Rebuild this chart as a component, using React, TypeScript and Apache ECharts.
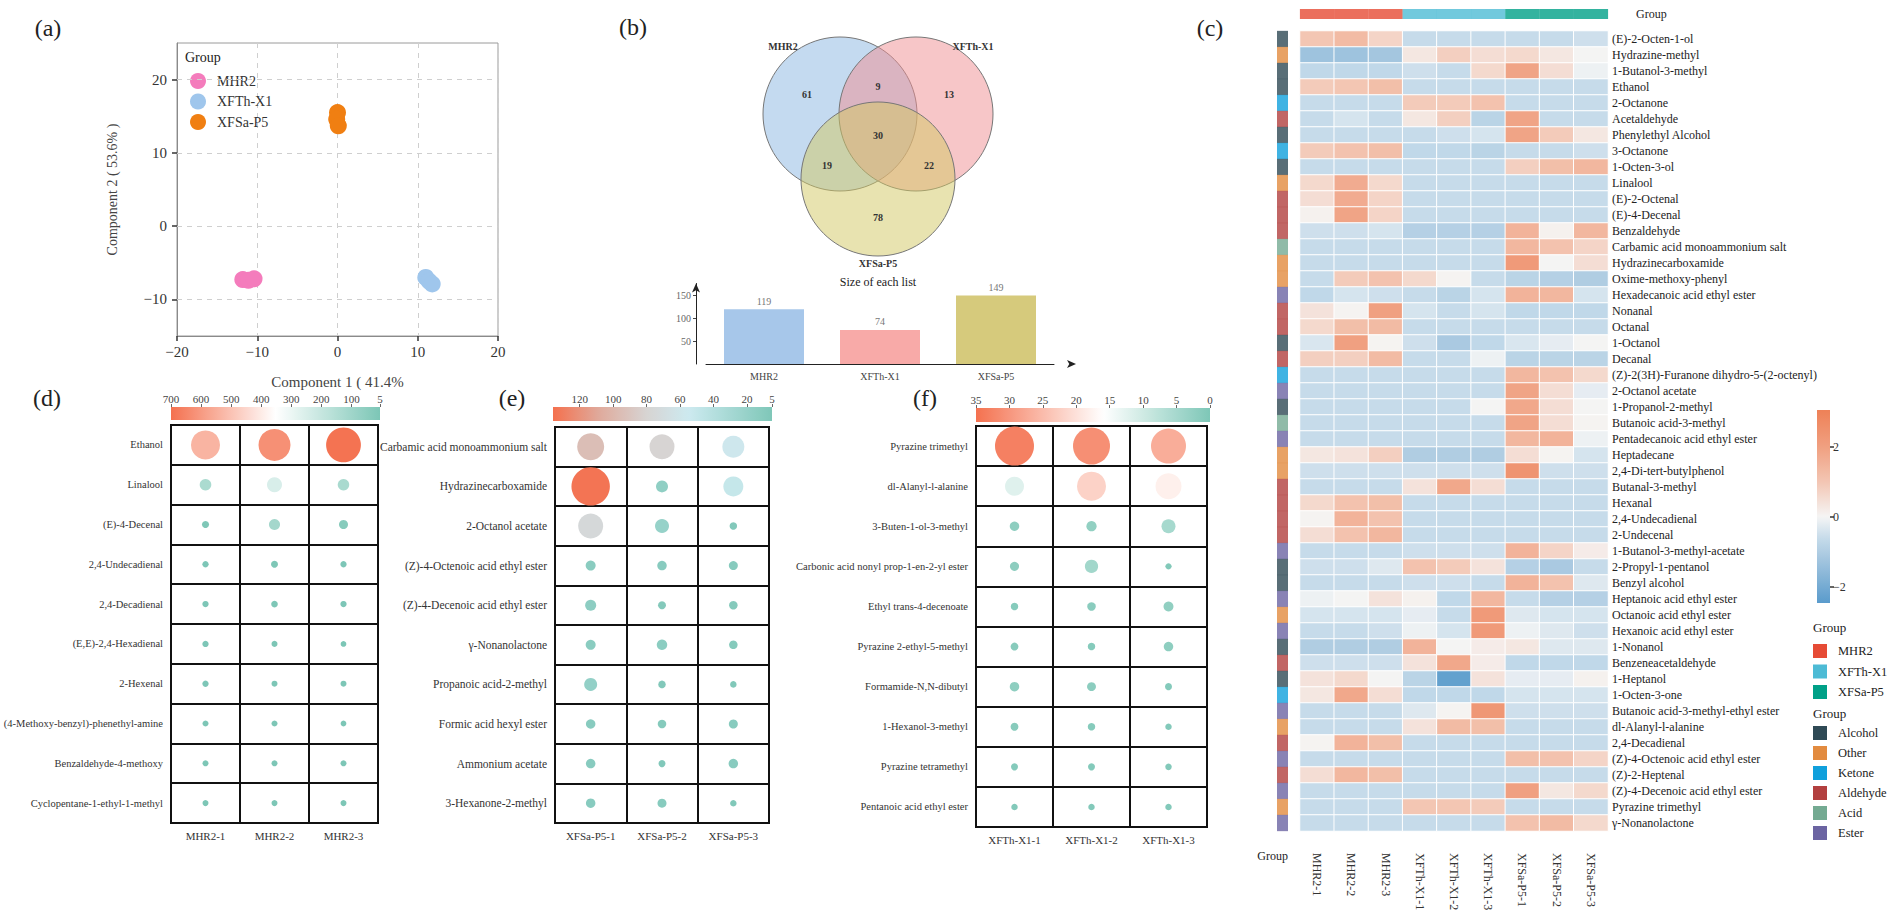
import React, { useEffect, useRef } from "react";
import * as echarts from "echarts";

const FONT = '"Liberation Serif", "Times New Roman", Times, serif';

// ---------------- (a) PCA ----------------
const pcaGroups = ["MHR2", "XFTh-X1", "XFSa-P5"];
const pcaMHR2 = [[-11.8, -7.3], [-11.1, -7.4], [-10.4, -7.2]];
const pcaXFTh = [[11.0, -7.0], [11.4, -7.5], [11.8, -7.9]];
const pcaXFSa = [[0.0, 15.5], [-0.1, 14.6], [0.1, 13.7]];
const pcaYTicks = [-10, 0, 10, 20];
const pcaXName = "Component 1 ( 41.4%";
const pcaYName = "Component 2 ( 53.6% )";

// ---------------- (b) Venn + sizes ----------------
const vennSets = ["MHR2", "XFTh-X1", "XFSa-P5"];
// regions: MHR2 only, XFTh-X1 only, XFSa-P5 only, M&T, M&S, T&S, all
const vennCounts = [61, 13, 78, 9, 19, 22, 30];
const listSizes = [119, 74, 149];
const listTicks = [50, 100, 150];

// ---------------- (c) heatmap ----------------
const heatSamples = ["MHR2-1", "MHR2-2", "MHR2-3", "XFTh-X1-1", "XFTh-X1-2", "XFTh-X1-3", "XFSa-P5-1", "XFSa-P5-2", "XFSa-P5-3"];
const heatSampleGroup = [0, 0, 0, 1, 1, 1, 2, 2, 2];
const heatCompounds = [
  "(E)-2-Octen-1-ol", "Hydrazine-methyl", "1-Butanol-3-methyl", "Ethanol", "2-Octanone", "Acetaldehyde",
  "Phenylethyl Alcohol", "3-Octanone", "1-Octen-3-ol", "Linalool", "(E)-2-Octenal", "(E)-4-Decenal",
  "Benzaldehyde", "Carbamic acid monoammonium salt", "Hydrazinecarboxamide", "Oxime-methoxy-phenyl",
  "Hexadecanoic acid ethyl ester", "Nonanal", "Octanal", "1-Octanol", "Decanal",
  "(Z)-2(3H)-Furanone dihydro-5-(2-octenyl)", "2-Octanol acetate", "1-Propanol-2-methyl",
  "Butanoic acid-3-methyl", "Pentadecanoic acid ethyl ester", "Heptadecane", "2,4-Di-tert-butylphenol",
  "Butanal-3-methyl", "Hexanal", "2,4-Undecadienal", "2-Undecenal", "1-Butanol-3-methyl-acetate",
  "2-Propyl-1-pentanol", "Benzyl alcohol", "Heptanoic acid ethyl ester", "Octanoic acid ethyl ester",
  "Hexanoic acid ethyl ester", "1-Nonanol", "Benzeneacetaldehyde", "1-Heptanol", "1-Octen-3-one",
  "Butanoic acid-3-methyl-ethyl ester", "dl-Alanyl-l-alanine", "2,4-Decadienal",
  "(Z)-4-Octenoic acid ethyl ester", "(Z)-2-Heptenal", "(Z)-4-Decenoic acid ethyl ester",
  "Pyrazine trimethyl", "\u03b3-Nonanolactone",
];
const compoundClassNames = ["Alcohol", "Other", "Ketone", "Aldehyde", "Acid", "Ester"];
const compoundClass = [
  "Alcohol", "Other", "Alcohol", "Alcohol", "Ketone", "Aldehyde", "Alcohol", "Ketone", "Alcohol", "Other",
  "Aldehyde", "Aldehyde", "Aldehyde", "Acid", "Other", "Other", "Ester", "Aldehyde", "Aldehyde", "Alcohol",
  "Aldehyde", "Ketone", "Ester", "Alcohol", "Acid", "Ester", "Other", "Other", "Aldehyde", "Aldehyde",
  "Aldehyde", "Aldehyde", "Ester", "Alcohol", "Alcohol", "Ester", "Other", "Ester", "Alcohol", "Aldehyde",
  "Alcohol", "Ketone", "Ester", "Other", "Aldehyde", "Ester", "Aldehyde", "Ester", "Other", "Ester",
];
const heatZ = [
  [1.0, 1.3, 0.7, -0.6, -0.6, -0.6, -0.6, -0.6, -0.5],
  [-1.3, -1.3, -1.2, 0.3, 0.8, 0.5, 0.6, 0.3, 0.0],
  [-0.7, -0.7, -0.7, -0.5, -0.6, 0.6, 1.9, 0.5, -0.1],
  [0.9, 1.0, 1.2, -0.6, -0.6, -0.6, -0.6, -0.6, -0.6],
  [-0.6, -0.6, -0.6, 0.9, 0.9, 1.1, -0.6, -0.6, -0.6],
  [-0.6, -0.4, -0.6, 0.3, 0.8, -0.8, 1.9, -0.6, -0.6],
  [-0.6, -0.6, -0.6, -0.6, -0.5, -0.4, 1.9, 0.9, 0.3],
  [0.9, 1.1, 1.2, -0.7, -0.7, -0.8, -0.6, -0.6, -0.5],
  [-0.6, -0.6, -0.6, -0.6, -0.6, -0.6, 0.8, 1.2, 1.4],
  [0.6, 1.7, 0.6, -0.6, -0.6, -0.6, -0.6, -0.6, -0.6],
  [0.5, 1.7, 0.7, -0.6, -0.6, -0.6, -0.6, -0.6, -0.6],
  [0.1, 1.9, 0.7, -0.6, -0.6, -0.6, -0.6, -0.6, -0.6],
  [-0.5, -0.5, -0.4, -0.9, -0.9, -0.9, 1.5, 0.1, 1.4],
  [-0.6, -0.6, -0.6, -0.6, -0.6, -0.6, 1.4, 1.1, 0.7],
  [-0.6, -0.6, -0.6, -0.6, -0.6, -0.6, 2.2, 0.0, 0.5],
  [-0.6, 0.9, 1.1, 0.6, 0.05, -0.6, -0.8, -0.9, -1.0],
  [-0.7, -0.4, -0.5, -0.6, -0.8, -0.4, 1.5, 1.4, -0.4],
  [0.4, 0.05, 2.0, -0.4, -0.6, -0.4, -0.7, -0.7, -0.7],
  [0.6, 1.2, 1.3, -0.6, -0.6, -0.6, -0.6, -0.6, -0.6],
  [-0.35, 2.0, 0.05, -0.5, -1.1, -0.7, -0.35, -0.2, 0.0],
  [0.8, 0.8, 1.3, -0.6, -0.6, -0.1, -0.8, -0.8, -0.8],
  [-0.6, -0.6, -0.6, -0.6, -0.6, -0.6, 1.4, 1.1, 0.6],
  [-0.6, -0.6, -0.6, -0.6, -0.6, -0.6, 1.9, 0.5, -0.2],
  [-0.6, -0.6, -0.6, -0.6, -0.6, 0.0, 1.8, 0.5, 0.0],
  [-0.6, -0.6, -0.6, -0.6, -0.6, -0.6, 1.9, 0.5, 0.05],
  [-0.6, -0.6, -0.6, -0.6, -0.6, -0.6, 1.4, 1.5, -0.1],
  [0.3, 0.4, 0.8, -1.0, -1.0, -1.0, 0.5, 0.05, -0.4],
  [-0.5, -0.5, -0.5, -0.5, -0.5, -0.5, 2.4, -0.5, -0.5],
  [-0.6, -0.6, -0.6, 0.4, 1.8, 0.5, -0.6, -0.6, -0.6],
  [0.6, 1.1, 1.2, -0.6, -0.6, -0.6, -0.6, -0.6, -0.6],
  [0.05, 1.5, 1.1, -0.6, -0.6, -0.6, -0.6, -0.6, -0.6],
  [0.5, 1.1, 1.4, -0.6, -0.6, -0.6, -0.6, -0.6, -0.6],
  [-0.6, -0.6, -0.6, -0.5, -0.5, -0.5, 1.5, 0.7, 0.2],
  [-0.5, -0.5, -0.3, 1.1, 0.9, 0.4, -0.9, -1.1, -0.6],
  [-0.6, -0.6, -0.6, -0.5, -0.5, -0.6, 1.5, 1.1, -0.3],
  [-0.1, 0.0, 0.4, 0.1, -0.7, 1.4, -0.6, -0.9, -0.9],
  [-0.4, -0.4, -0.4, -0.2, -0.6, 2.2, -0.3, -0.4, -0.4],
  [-0.6, -0.6, -0.5, -0.1, -0.4, 2.2, -0.1, -0.3, -0.5],
  [-1.0, -1.0, -1.0, 1.5, 0.0, 0.2, 0.3, -0.3, -0.3],
  [-0.5, -0.5, -0.5, 0.4, 1.8, 0.2, -0.7, -0.7, -0.7],
  [0.4, 0.6, 0.0, -0.8, -2.3, 0.4, -0.2, -0.2, 0.1],
  [0.3, 1.8, 0.5, -0.7, -0.7, -0.7, -0.4, -0.4, -0.4],
  [-0.6, -0.6, -0.6, -0.3, 0.05, 2.3, -0.5, -0.5, -0.5],
  [-0.6, -0.6, -0.6, 0.4, 1.3, 1.2, -0.6, -0.6, -0.6],
  [0.05, 1.5, 1.2, -0.6, -0.6, -0.6, -0.6, -0.6, -0.6],
  [-0.6, -0.6, -0.6, -0.6, -0.6, -0.6, 1.2, 1.1, 0.7],
  [0.5, 1.4, 1.2, -0.6, -0.6, -0.6, -0.6, -0.6, -0.6],
  [-0.6, -0.6, -0.6, -0.6, -0.6, -0.6, 2.0, 0.3, 0.6],
  [-0.6, -0.6, -0.6, 1.0, 1.0, 0.9, -0.6, -0.6, -0.6],
  [-0.6, -0.6, -0.6, -0.6, -0.6, -0.6, 1.1, 1.3, 0.6],
];
const heatMin = -2.46;
const heatMax = 3.06;
const heatTicks = [-2, 0, 2];

// ---------------- (d) (e) (f) bubbles ----------------
const rowsD = ["Ethanol", "Linalool", "(E)-4-Decenal", "2,4-Undecadienal", "2,4-Decadienal", "(E,E)-2,4-Hexadienal", "2-Hexenal", "(4-Methoxy-benzyl)-phenethyl-amine", "Benzaldehyde-4-methoxy", "Cyclopentane-1-ethyl-1-methyl"];
const colsD = ["MHR2-1", "MHR2-2", "MHR2-3"];
const valsD = [[535, 625, 695], [130, 250, 125], [12, 110, 35], [8, 10, 8], [8, 9, 8], [8, 7, 6], [8, 7, 7], [7, 7, 6], [7, 7, 7], [7, 7, 7]];
const ticksD = [700, 600, 500, 400, 300, 200, 100, 5];

const rowsE = ["Carbamic acid monoammonium salt", "Hydrazinecarboxamide", "2-Octanol acetate", "(Z)-4-Octenoic acid ethyl ester", "(Z)-4-Decenoic acid ethyl ester", "\u03b3-Nonanolactone", "Propanoic acid-2-methyl", "Formic acid hexyl ester", "Ammonium acetate", "3-Hexanone-2-methyl"];
const colsE = ["XFSa-P5-1", "XFSa-P5-2", "XFSa-P5-3"];
const valsE = [[95, 80, 58], [134, 16, 50], [75, 20, 7], [12, 11, 10], [14, 8, 9], [12, 13, 9], [18, 7, 6], [11, 9, 10], [11, 6.5, 11], [11, 10, 6]];
const ticksE = [120, 100, 80, 60, 40, 20, 5];

const rowsF = ["Pyrazine trimethyl", "dl-Alanyl-l-alanine", "3-Buten-1-ol-3-methyl", "Carbonic acid nonyl prop-1-en-2-yl ester", "Ethyl trans-4-decenoate", "Pyrazine 2-ethyl-5-methyl", "Formamide-N,N-dibutyl", "1-Hexanol-3-methyl", "Pyrazine tetramethyl", "Pentanoic acid ethyl ester"];
const colsF = ["XFTh-X1-1", "XFTh-X1-2", "XFTh-X1-3"];
const valsF = [[33, 31, 27], [12, 22, 18], [2, 2.5, 5], [1.8, 4.5, 0.5], [1, 1.5, 2.3], [1.2, 1, 2], [2, 1.7, 0.8], [1.2, 1, 0.6], [0.8, 0.8, 0.6], [0.6, 0.6, 0.6]];
const ticksF = [35, 30, 25, 20, 15, 10, 5, 0];

// ---------------- styles ----------------
const pcaColors = ["#f47cbc", "#9fc6ec", "#f07f12"];
const vennFill = ["rgba(137,181,225,0.5)", "rgba(240,141,145,0.5)", "rgba(209,199,97,0.5)"];
const barColors = ["#a7c7ea", "#f8aaa8", "#d6ca7c"];
const groupColors = ["#e64b35", "#4dbbd5", "#00a087"];
const classColors: Record<string, string> = {
  Alcohol: "#2f4a55", Other: "#e28b3f", Ketone: "#10a0dc", Aldehyde: "#b2403f", Acid: "#74aa92", Ester: "#6b64a2",
};
type CStops = [number, string][];
const heatStops: CStops = [[-2.46, "#5a9bcc"], [-1.2, "#a4c6df"], [-0.6, "#c6dbea"], [0, "#f5f5f5"], [1, "#f3c6b3"], [2, "#f0a081"], [3.06, "#ee8157"]];
const colorD: CStops = [[5, "#7cc6b6"], [352, "#ffffff"], [700, "#f4714f"]];
const colorE: CStops = [[5, "#7fc7b8"], [55, "#cdeaf0"], [80, "#d7d4d3"], [108, "#dfab9d"], [136, "#f4704e"]];
const colorF: CStops = [[0, "#7ec7b7"], [16, "#ffffff"], [35, "#f4714f"]];
const sizeD: [number, number][] = [[5, 5.5], [7, 6], [10, 7], [35, 9], [125, 11.5], [250, 15], [535, 29], [625, 32], [700, 35]];
const sizeE: [number, number][] = [[5, 5.5], [6, 6.5], [7, 7.5], [9, 8.5], [11, 9.5], [14, 11], [18, 13], [20, 14], [50, 20], [58, 22], [75, 25], [80, 25], [95, 27], [136, 39]];
const sizeF: [number, number][] = [[0, 5], [0.6, 6.5], [1, 7.5], [2, 9.5], [5, 14], [12, 19], [18, 26], [22, 29], [27, 35], [31, 37], [33, 39], [35, 40]];

function hexRgb(h: string) {
  const n = parseInt(h.slice(1), 16);
  return [(n >> 16) & 255, (n >> 8) & 255, n & 255];
}
function lerpColor(stops: CStops, v: number) {
  if (v <= stops[0][0]) return stops[0][1];
  if (v >= stops[stops.length - 1][0]) return stops[stops.length - 1][1];
  for (let i = 0; i < stops.length - 1; i++) {
    const [a, ca] = stops[i];
    const [b, cb] = stops[i + 1];
    if (v >= a && v <= b) {
      const t = (v - a) / (b - a);
      const x = hexRgb(ca), y = hexRgb(cb);
      const c = x.map((q, k) => Math.round(q + (y[k] - q) * t));
      return `rgb(${c[0]},${c[1]},${c[2]})`;
    }
  }
  return stops[0][1];
}
function lerpNum(stops: [number, number][], v: number) {
  if (v <= stops[0][0]) return stops[0][1];
  if (v >= stops[stops.length - 1][0]) return stops[stops.length - 1][1];
  for (let i = 0; i < stops.length - 1; i++) {
    const [a, sa] = stops[i];
    const [b, sb] = stops[i + 1];
    if (v >= a && v <= b) return sa + ((sb - sa) * (v - a)) / (b - a);
  }
  return stops[0][1];
}
const minus = (v: number) => String(v).replace("-", "\u2212");

function gradient(stops: CStops, from: number, to: number, vertical: boolean) {
  const n = 40;
  const cs = [];
  for (let i = 0; i <= n; i++) {
    const v = from + ((to - from) * i) / n;
    cs.push({ offset: i / n, color: lerpColor(stops, v) });
  }
  return new echarts.graphic.LinearGradient(0, 0, vertical ? 0 : 1, vertical ? 1 : 0, cs);
}

function buildOption() {
  const grid: any[] = [];
  const xAxis: any[] = [];
  const yAxis: any[] = [];
  const series: any[] = [];
  const graphic: any[] = [];
  const txt = (text: string, x: number, y: number, size: number, align = "center", extra: any = {}) =>
    graphic.push({
      type: "text", x, y, z: 10, silent: true,
      style: { text, fontFamily: FONT, fontSize: size, fill: "#222", align, verticalAlign: "middle", ...extra },
    });

  // ---- (a) ----
  grid.push({ left: 177, top: 43, width: 321, height: 293, show: true, borderColor: "#9a9a9a", borderWidth: 1 });
  xAxis.push({
    gridIndex: 0, type: "value", min: -20, max: 20, interval: 10,
    name: pcaXName, nameLocation: "middle", nameGap: 38,
    nameTextStyle: { fontFamily: FONT, fontSize: 15, color: "#444" },
    axisLine: { show: true, onZero: false, lineStyle: { color: "#8a8a8a" } },
    axisTick: { show: true, length: 5, lineStyle: { color: "#333", width: 1.5 } },
    axisLabel: { fontFamily: FONT, fontSize: 15, color: "#333", formatter: minus, margin: 8 },
    splitLine: { show: true, lineStyle: { type: [5, 5], color: "#cfcfcf" } },
  });
  yAxis.push({
    gridIndex: 0, type: "value", min: -15, max: 25,
    name: pcaYName, nameLocation: "middle", nameGap: 58, nameRotate: 90,
    nameTextStyle: { fontFamily: FONT, fontSize: 14, color: "#444" },
    axisLine: { show: true, onZero: false, lineStyle: { color: "#8a8a8a" } },
    axisTick: { show: true, length: 5, customValues: pcaYTicks, lineStyle: { color: "#333", width: 1.5 } },
    axisLabel: { fontFamily: FONT, fontSize: 15, color: "#333", formatter: minus, margin: 10, customValues: pcaYTicks },
    splitLine: { show: false },
  });
  [pcaMHR2, pcaXFTh, pcaXFSa].forEach((pts, i) => {
    series.push({
      type: "scatter", name: pcaGroups[i], xAxisIndex: 0, yAxisIndex: 0, data: pts, symbolSize: 17,
      itemStyle: { color: pcaColors[i], opacity: 1 }, z: 5,
      markLine: i === 0 ? {
        silent: true, symbol: "none", label: { show: false },
        lineStyle: { type: [5, 5], color: "#cfcfcf", width: 1 },
        data: pcaYTicks.map((v) => ({ yAxis: v })),
      } : undefined,
    });
  });
  txt("Group", 185, 57, 14, "left");

  // ---- (b) bar ----
  grid.push({ left: 706, top: 283.5, width: 348, height: 80.5 });
  xAxis.push({
    gridIndex: 1, type: "category", data: vennSets,
    axisLine: { show: true, symbol: ["none", "arrow"], symbolSize: [6, 9], symbolOffset: [0, 22], lineStyle: { color: "#222" } },
    axisTick: { show: false },
    axisLabel: { fontFamily: FONT, fontSize: 10, color: "#444", margin: 7 },
  });
  yAxis.push({
    gridIndex: 1, type: "value", min: 0, max: 175, offset: 10,
    axisLine: { show: true, symbol: ["none", "arrow"], symbolSize: [6, 9], lineStyle: { color: "#222" } },
    axisTick: { show: true, length: 3, customValues: listTicks, lineStyle: { color: "#444" } },
    axisLabel: { fontFamily: FONT, fontSize: 10, color: "#666", margin: 5, customValues: listTicks },
    splitLine: { show: false },
  });
  series.push({
    type: "bar", name: "size", xAxisIndex: 1, yAxisIndex: 1, barWidth: 80,
    data: listSizes.map((v, i) => ({ value: v, itemStyle: { color: barColors[i] } })),
    label: { show: true, position: "top", fontFamily: FONT, fontSize: 10, color: "#777", distance: 3 },
  });
  // venn
  const vennCircles = [[840, 114], [916, 114], [878, 179]];
  vennCircles.forEach(([cx, cy], i) =>
    graphic.push({ type: "circle", shape: { cx, cy, r: 77 }, style: { fill: vennFill[i], stroke: "#777", lineWidth: 1 }, z: 1, silent: true })
  );
  const vennSetPos = [[783, 46], [973, 46], [878, 263]];
  vennSets.forEach((s, i) => txt(s, vennSetPos[i][0], vennSetPos[i][1], 10, "center", { fontWeight: "bold", fill: "#333" }));
  const vennCountPos = [[807, 94], [949, 94], [878, 217], [878, 86], [827, 165], [929, 165], [878, 135]];
  vennCounts.forEach((c, i) => txt(String(c), vennCountPos[i][0], vennCountPos[i][1], 10, "center", { fontWeight: "bold", fill: "#333" }));
  txt("Size of each list", 878, 282, 12, "center");

  // ---- bubble panels ----
  const bubble = (left: number, top: number, width: number, height: number, rows: string[], cols: string[], vals: number[][],
    sizes: [number, number][], colors: CStops, rowFont: number, cb: { left: number; top: number; width: number; height: number; min: number; max: number; ticks: number[] }) => {
    const gi = grid.length;
    grid.push({ left, top, width, height, show: true, borderColor: "#111", borderWidth: 2 });
    xAxis.push({
      gridIndex: gi, type: "category", data: cols,
      axisLine: { lineStyle: { color: "#111", width: 2 } },
      axisTick: { alignWithLabel: true, length: 4, lineStyle: { color: "#333" } },
      axisLabel: { fontFamily: FONT, fontSize: 11, color: "#333", margin: 7, interval: 0 },
      splitLine: { show: true, interval: 0, lineStyle: { color: "#111", width: 2 } },
    });
    yAxis.push({
      gridIndex: gi, type: "category", data: rows, inverse: true,
      axisLine: { lineStyle: { color: "#111", width: 2 } },
      axisTick: { alignWithLabel: true, length: 5, lineStyle: { color: "#333" } },
      axisLabel: { fontFamily: FONT, fontSize: rowFont, color: "#333", margin: 8, interval: 0 },
      splitLine: { show: true, interval: 0, lineStyle: { color: "#111", width: 2 } },
    });
    series.push({
      type: "scatter", name: "bubble" + gi, xAxisIndex: gi, yAxisIndex: gi, z: 4,
      data: vals.flatMap((row, r) => row.map((v, c) => [c, r, v])),
      symbolSize: (d: number[]) => lerpNum(sizes, d[2]),
      itemStyle: { opacity: 1, color: (p: any) => lerpColor(colors, p.data[2]) },
    });
    // colour bar
    const gc = grid.length;
    grid.push({ left: cb.left, top: cb.top, width: cb.width, height: cb.height });
    xAxis.push({
      gridIndex: gc, type: "value", position: "top", min: cb.min, max: cb.max, inverse: true,
      axisLine: { show: false },
      axisTick: { show: true, length: 3, customValues: cb.ticks, lineStyle: { color: "#666" } },
      axisLabel: { fontFamily: FONT, fontSize: 11, color: "#444", margin: 3, customValues: cb.ticks },
      splitLine: { show: false },
    });
    yAxis.push({ gridIndex: gc, type: "category", data: [""], show: false });
    graphic.push({
      type: "rect", z: 0, silent: true,
      shape: { x: cb.left, y: cb.top, width: cb.width, height: cb.height },
      style: { fill: gradient(colors, cb.max, cb.min, false) },
    });
  };
  bubble(171, 425, 207, 398, rowsD, colsD, valsD, sizeD, colorD, 10.5, { left: 171, top: 407, width: 209, height: 13, min: 5, max: 700, ticks: ticksD });
  bubble(555, 427, 214, 396, rowsE, colsE, valsE, sizeE, colorE, 11.5, { left: 553, top: 407, width: 219, height: 14, min: 5, max: 136, ticks: ticksE });
  bubble(976, 426, 231, 401, rowsF, colsF, valsF, sizeF, colorF, 10.5, { left: 976, top: 408, width: 234, height: 14, min: 0, max: 35, ticks: ticksF });

  // ---- (c) heatmap ----
  const gh = grid.length;
  grid.push({ left: 1300, top: 31, width: 308, height: 800 });
  xAxis.push({
    gridIndex: gh, type: "category", data: heatSamples,
    axisLine: { show: false }, axisTick: { show: false }, splitLine: { show: false },
    axisLabel: { fontFamily: FONT, fontSize: 12, color: "#333", rotate: -90, margin: 22, interval: 0 },
  });
  yAxis.push({
    gridIndex: gh, type: "category", data: heatCompounds, inverse: true, position: "right",
    axisLine: { show: false }, axisTick: { show: false }, splitLine: { show: false },
    axisLabel: { fontFamily: FONT, fontSize: 12, color: "#222", margin: 4, interval: 0 },
  });
  const heatSeriesIndex = series.length;
  series.push({
    type: "heatmap", name: "heat", xAxisIndex: gh, yAxisIndex: gh,
    data: heatZ.flatMap((row, r) => row.map((v, c) => [c, r, v])),
    itemStyle: { borderColor: "#ffffff", borderWidth: 1 },
  });
  // row class bar
  const gr = grid.length;
  grid.push({ left: 1277, top: 31, width: 11, height: 800 });
  xAxis.push({ gridIndex: gr, type: "category", data: ["class"], show: false });
  yAxis.push({ gridIndex: gr, type: "category", data: heatCompounds, inverse: true, show: false });
  series.push({
    type: "scatter", name: "class", xAxisIndex: gr, yAxisIndex: gr, symbol: "rect", symbolSize: [11, 16.3],
    data: compoundClass.map((c, r) => ({ value: [0, r], itemStyle: { color: classColors[c] } })),
  });
  // top group bar
  const gt = grid.length;
  grid.push({ left: 1300, top: 9, width: 308, height: 10 });
  xAxis.push({ gridIndex: gt, type: "category", data: heatSamples, show: false });
  yAxis.push({ gridIndex: gt, type: "category", data: ["grp"], show: false });
  series.push({
    type: "scatter", name: "grp", xAxisIndex: gt, yAxisIndex: gt, symbol: "rect", symbolSize: [34.4, 10],
    data: heatSampleGroup.map((g, c) => ({ value: [c, 0], itemStyle: { color: groupColors[g] } })),
  });
  txt("Group", 1636, 14, 12, "left");
  txt("Group", 1288, 856, 12, "right");
  // heat colour bar
  const gb = grid.length;
  grid.push({ left: 1817, top: 410, width: 13, height: 193 });
  xAxis.push({ gridIndex: gb, type: "category", data: [""], show: false });
  yAxis.push({
    gridIndex: gb, type: "value", min: heatMin, max: heatMax, position: "right",
    axisLine: { show: false },
    axisTick: { show: true, length: 4, customValues: heatTicks, lineStyle: { color: "#333", width: 1.5 } },
    axisLabel: { fontFamily: FONT, fontSize: 12, color: "#333", margin: 3, customValues: heatTicks, formatter: minus },
    splitLine: { show: false },
  });
  graphic.push({
    type: "rect", z: 0, silent: true, shape: { x: 1817, y: 410, width: 13, height: 193 },
    style: { fill: gradient(heatStops, heatMax, heatMin, true) },
  });
  // legends
  txt("Group", 1813, 627, 13, "left");
  pcaGroups.forEach((g, i) => {
    const y = 651 + i * 20.5;
    graphic.push({ type: "rect", shape: { x: 1813, y: y - 7, width: 14, height: 14 }, style: { fill: groupColors[i] }, silent: true });
    txt(g, 1838, y, 12.5, "left");
  });
  txt("Group", 1813, 713, 13, "left");
  compoundClassNames.forEach((c, i) => {
    const y = 733 + i * 20;
    graphic.push({ type: "rect", shape: { x: 1813, y: y - 7, width: 14, height: 14 }, style: { fill: classColors[c] }, silent: true });
    txt(c, 1838, y, 12.5, "left");
  });

  // panel labels
  txt("(a)", 48, 28, 24);
  txt("(b)", 633, 27, 24);
  txt("(c)", 1210, 28, 24);
  txt("(d)", 47, 398, 24);
  txt("(e)", 512, 398, 24);
  txt("(f)", 925, 398, 24);

  const heatColors: string[] = [];
  for (let i = 0; i <= 80; i++) heatColors.push(lerpColor(heatStops, heatMin + ((heatMax - heatMin) * i) / 80));

  return {
    animation: false,
    backgroundColor: "#ffffff",
    textStyle: { fontFamily: FONT },
    legend: {
      data: pcaGroups, orient: "vertical", left: 185, top: 68, itemWidth: 16, itemHeight: 16, itemGap: 4.5,
      icon: "circle", selectedMode: false,
      textStyle: { fontFamily: FONT, fontSize: 14, color: "#333", padding: [0, 0, 0, 6] },
    },
    visualMap: {
      show: false, type: "continuous", seriesIndex: heatSeriesIndex, min: heatMin, max: heatMax, dimension: 2,
      inRange: { color: heatColors },
    },
    grid, xAxis, yAxis, series, graphic,
  };
}

export default function App() {
  const ref = useRef<HTMLDivElement>(null);
  useEffect(() => {
    document.body.style.margin = "0";
    const chart = echarts.init(ref.current!, undefined, { renderer: "svg", width: 1902, height: 922 });
    chart.setOption(buildOption() as any);
    return () => chart.dispose();
  }, []);
  return <div ref={ref} style={{ width: 1902, height: 922, background: "#fff" }} />;
}
